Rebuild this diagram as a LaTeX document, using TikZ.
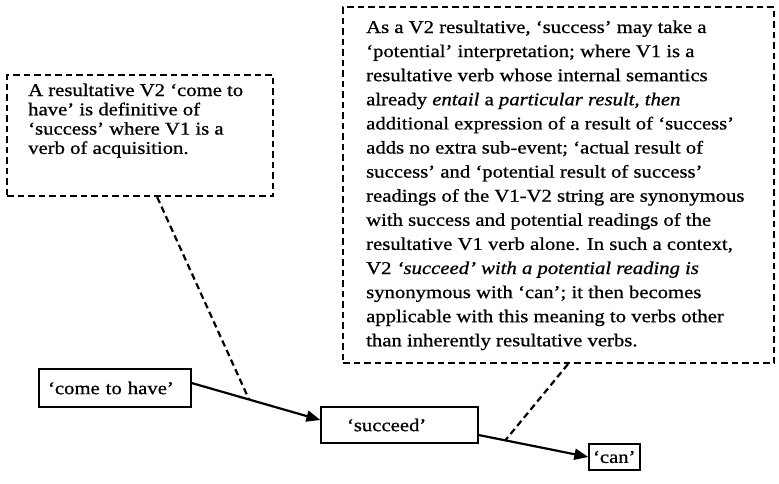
\documentclass[tikz,border=0pt]{standalone}
\usepackage{fontspec}
\setmainfont{Liberation Serif}[FakeStretch=1.15,FakeBold=0.8]
\usetikzlibrary{arrows.meta,calc}
\begin{document}
\begin{tikzpicture}[x=1pt,y=-1pt,
  every node/.style={font=\fontsize{18}{19.3}\selectfont},
  dashbox/.style={draw, line width=2.2pt, dash pattern=on 6.5pt off 4pt, inner sep=0pt},
  wordbox/.style={draw, line width=1.3pt, inner ysep=0pt, align=left},
  txt/.style={inner sep=0pt, anchor=base west},
  link/.style={line width=2.2pt, -{Triangle[length=14pt,width=11pt]}},
  callout/.style={line width=2.2pt, dash pattern=on 6.5pt off 4pt}]
\useasboundingbox (0,0) rectangle (779,483);
\fill[white] (0,0) rectangle (779,483);

% callout boxes
\node[dashbox, minimum width=266pt, minimum height=121pt] (lbox) at (140,135.5) {};
\node[dashbox, minimum width=431pt, minimum height=356pt] (rbox) at (558.5,185) {};

\node[txt] (ltext) at (28,96) {\fontsize{18}{19.3}\selectfont\begin{tabular}[t]{@{}l@{}}
A resultative V2 ‘come to\\
have’ is definitive of\\
‘success’ where V1 is a\\
verb of acquisition.
\end{tabular}};

\node[txt] (rtext) at (366,33) {\fontsize{18}{24.1}\selectfont\begin{tabular}[t]{@{}l@{}}
As a V2 resultative, ‘success’ may take a\\
‘potential’ interpretation; where V1 is a\\
resultative verb whose internal semantics\\
already \textit{entail} a \textit{particular result, then}\\
additional expression of a result of ‘success’\\
adds no extra sub-event; ‘actual result of\\
success’ and ‘potential result of success’\\
readings of the V1-V2 string are synonymous\\
with success and potential readings of the\\
resultative V1 verb alone. In such a context,\\
V2 \textit{‘succeed’ with a potential reading is}\\
synonymous with ‘can’; it then becomes\\
applicable with this meaning to verbs other\\
than inherently resultative verbs.
\end{tabular}};

% word boxes
\node[wordbox, minimum height=38pt, text width=134pt, inner xsep=9pt] (come) at (115,388) {‘come to have’};
\node[wordbox, minimum height=36pt, text width=105pt, inner xsep=26pt] (succ) at (399.5,425) {‘succeed’};
\node[wordbox, minimum height=26pt, text width=43pt, inner xsep=4pt] (can) at (614.5,457) {‘can’};

% arrows
\draw[link] ([yshift=5pt]come.east) -- coordinate[pos=0.446] (m1) ([yshift=5pt]succ.west);
\draw[link] ([yshift=-10pt]succ.east) -- coordinate[pos=0.243] (m2) (can.west);

% callout connectors
\draw[callout] ($(lbox.south west)!0.564!(lbox.south east)$) -- (m1);
\draw[callout] ($(rbox.south west)!0.522!(rbox.south east)$) -- (m2);
\end{tikzpicture}
\end{document}
